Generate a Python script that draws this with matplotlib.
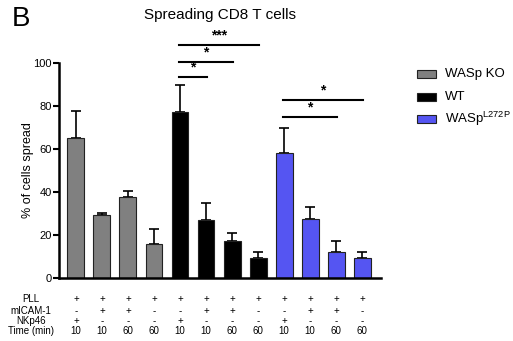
import matplotlib.pyplot as plt
import numpy as np

plt.rcParams['font.family'] = ['Liberation Sans', 'DejaVu Sans']

groups = ['WASp KO', 'WT', r'WASp$^{\mathregular{L272P}}$']
colors = ['#808080', '#000000', '#5555F2']

means = [65.3, 29.3, 37.5, 15.9, 77.4, 26.8, 17.3, 9.3, 58.0, 27.2, 12.1, 9.0]
errors = [12.6, 0.7, 3.0, 6.7, 12.6, 8.2, 3.7, 2.8, 12.0, 5.9, 5.2, 3.1]

pll = ['+'] * 12
micam = ['-', '+', '+', '-'] * 3
nkp46 = ['+', '-', '-', '-'] * 3
time_min = ['10', '10', '60', '60'] * 3
row_labels = ['PLL', 'mICAM-1', 'NKp46', 'Time (min)']

# significance bars: (from bar, to bar, height, label)
sig = [(4, 5, 93.7, '*'), (4, 6, 100.6, '*'), (4, 7, 108.4, '***'),
       (8, 10, 75.0, '*'), (8, 11, 82.9, '*')]

fig = plt.figure(figsize=(5.13, 3.41), dpi=100)
ax = fig.add_axes([0.115, 0.186, 0.628, 0.628])

x = np.arange(len(means))
bar_colors = [colors[i // 4] for i in x]
ax.bar(x, means, width=0.65, color=bar_colors, edgecolor='#222222', linewidth=0.8, zorder=2)
ax.errorbar(x, means, yerr=[np.zeros(len(errors)), errors], fmt='none',
            ecolor='black', elinewidth=1.2, capsize=3.5, capthick=1.2, zorder=1)

ax.set_xlim(-0.65, 11.73)
ax.set_ylim(0, 100)
ax.set_yticks([0, 20, 40, 60, 80, 100])
ax.tick_params(axis='y', labelsize=8, width=1.5, length=4, pad=1)
ax.set_xticks([])
for s in ['top', 'right']:
    ax.spines[s].set_visible(False)
ax.spines['left'].set_linewidth(1.8)
ax.spines['bottom'].set_linewidth(1.8)
ax.set_ylabel('% of cells spread', fontsize=9, labelpad=0)

for a, b, h, lab in sig:
    ax.plot([a - 0.05, b + 0.05], [h, h], color='black', lw=1.5, clip_on=False)
    ax.text((a + b) / 2, h + 1.2, lab, ha='center', va='bottom',
            fontsize=10, fontweight='bold')

tr = ax.get_xaxis_transform()
rows = [pll, micam, nkp46, time_min]
row_y = [-0.102, -0.155, -0.202, -0.251]
for lab, vals, yy in zip(row_labels, rows, row_y):
    ax.text(-1.73, yy, lab, transform=tr, ha='center', va='center', fontsize=7)
    for i, v in enumerate(vals):
        ax.text(i, yy, v, transform=tr, ha='center', va='center', fontsize=7)

# legend drawn by hand (figure pixel layout)
W, H = 513.0, 341.0
leg_y = [74, 97, 119]
for c, lab, yy in zip(colors, groups, leg_y):
    fig.patches.append(plt.Rectangle((417 / W, 1 - (yy + 4) / H), 19 / W, 8 / H,
                                     transform=fig.transFigure, facecolor=c,
                                     edgecolor='#222222', lw=0.8))
    fig.text(445 / W, 1 - yy / H, lab, ha='left', va='center', fontsize=9.5)

fig.text(0.428, 0.956, 'Spreading CD8 T cells', ha='center', va='center', fontsize=11)
fig.text(0.022, 0.945, 'B', ha='left', va='center', fontsize=20)

fig.savefig('out.png', dpi=100)
